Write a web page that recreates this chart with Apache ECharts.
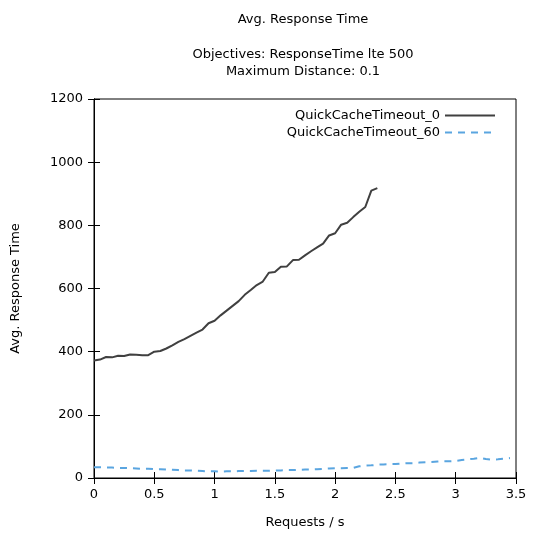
<!DOCTYPE html>
<html><head><meta charset="utf-8">
<script src="https://cdn.jsdelivr.net/npm/echarts@6/dist/echarts.min.js"></script>
<style>html,body{margin:0;padding:0;background:#fff}#c{width:533px;height:534px}</style>
</head><body><div id="c"></div>
<script>
const seriesNames = ['QuickCacheTimeout_0', 'QuickCacheTimeout_60'];
const xTicks = [0, 0.5, 1, 1.5, 2, 2.5, 3, 3.5];
const yTicks = [0, 200, 400, 600, 800, 1000, 1200];
const x0 = [0,0.05,0.1,0.15,0.2,0.25,0.3,0.35,0.4,0.45,0.5,0.55,0.6,0.65,0.7,0.75,0.8,0.85,0.9,0.95,1.0,1.05,1.1,1.15,1.2,1.25,1.3,1.35,1.4,1.45,1.5,1.55,1.6,1.65,1.7,1.75,1.8,1.85,1.9,1.95,2.0,2.05,2.1,2.15,2.2,2.25,2.3,2.35];
const y0 = [372,375,383,382,387,386,391,390,389,389,400,402,410,420,431,440,450,460,470,490,498,515,530,545,560,580,595,611,622,650,652,669,670,690,691,705,718,730,742,768,775,802,808,826,843,858,910,918];
const x60 = [0,0.05,0.1,0.15,0.2,0.25,0.3,0.35,0.4,0.45,0.5,0.55,0.6,0.65,0.7,0.75,0.8,0.85,0.9,0.95,1.0,1.05,1.1,1.15,1.2,1.25,1.3,1.35,1.4,1.45,1.5,1.55,1.6,1.65,1.7,1.75,1.8,1.85,1.9,1.95,2.0,2.05,2.1,2.15,2.2,2.25,2.3,2.35,2.4,2.45,2.5,2.55,2.6,2.65,2.7,2.75,2.8,2.85,2.9,2.95,3.0,3.05,3.1,3.15,3.2,3.25,3.3,3.35,3.4,3.45];
const y60 = [34,34,33,33,32,32,31,30,29,29,28,28,27,26,25,24,24,23,22,21,21,20,21,21,22,22,22,23,23,23,24,24,25,25,26,27,27,28,29,30,31,31,32,32,37,39,40,42,43,44,44,46,47,47,49,50,51,52,53,53,54,57,59,61,64,60,58,59,61,63];

const FONT = 'DejaVu Sans';
const chart = echarts.init(document.getElementById('c'), null, {renderer: 'canvas'});
const pairs = (xs, ys) => xs.map((x, i) => [x, ys[i]]);
const axisLine = {show: true, lineStyle: {color: '#000', width: 1}};
const tick = {show: true, inside: true, length: 6, lineStyle: {color: '#000'}};
chart.setOption({
  animation: false,
  backgroundColor: '#fff',
  textStyle: {fontFamily: FONT},
  title: [
    {text: 'Avg. Response Time', left: 298, top: 8, textAlign: 'center',
     textStyle: {fontFamily: FONT, fontSize: 13, fontWeight: 'normal', color: '#000'}},
    {text: 'Objectives: ResponseTime lte 500\nMaximum Distance: 0.1', left: 298, top: 41, textAlign: 'center',
     textStyle: {fontFamily: FONT, fontSize: 13, fontWeight: 'normal', color: '#000', lineHeight: 17, align: 'center'}}
  ],
  legend: {
    orient: 'vertical', right: 32, top: 104, align: 'right',
    itemWidth: 50, itemHeight: 12, itemGap: 4,
    itemStyle: {opacity: 0},
    textStyle: {fontFamily: FONT, fontSize: 13, color: '#000'},
    data: seriesNames
  },
  grid: {left: 94, right: 17, top: 99, bottom: 56, show: true, borderColor: '#000', borderWidth: 1},
  xAxis: [
    {type: 'value', min: 0, max: 3.5, interval: 0.5, name: 'Requests / s', nameLocation: 'middle', nameGap: 38,
     nameTextStyle: {fontFamily: FONT, fontSize: 13, color: '#000'},
     axisLine, axisTick: tick, splitLine: {show: false},
     axisLabel: {fontFamily: FONT, fontSize: 13, color: '#000', margin: 10, formatter: v => String(v)}},
    {type: 'value', position: 'top', min: 0, max: 3.5, interval: 0.5,
     axisLine, axisTick: tick, splitLine: {show: false}, axisLabel: {show: false}}
  ],
  yAxis: [
    {type: 'value', min: 0, max: 1200, interval: 200, name: 'Avg. Response Time', nameLocation: 'middle', nameGap: 72,
     nameTextStyle: {fontFamily: FONT, fontSize: 13, color: '#000'},
     axisLine, axisTick: tick, splitLine: {show: false},
     axisLabel: {fontFamily: FONT, fontSize: 13, color: '#000', margin: 11, formatter: v => String(v)}},
    {type: 'value', position: 'right', min: 0, max: 1200, interval: 200,
     axisLine, axisTick: tick, splitLine: {show: false}, axisLabel: {show: false}}
  ],
  series: [
    {name: seriesNames[0], type: 'line', data: pairs(x0, y0), showSymbol: false, symbol: 'none',
     lineStyle: {color: '#404040', width: 2}, itemStyle: {color: '#404040'}},
    {name: seriesNames[1], type: 'line', data: pairs(x60, y60), showSymbol: false, symbol: 'none',
     lineStyle: {color: '#5aa5e0', width: 2, type: [7, 6]}, itemStyle: {color: '#5aa5e0'}}
  ]
});
</script></body></html>
